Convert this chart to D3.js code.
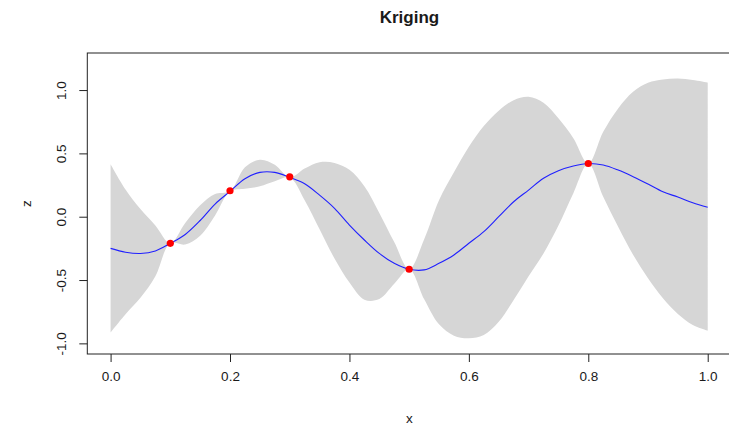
<!DOCTYPE html>
<html>
<head>
<meta charset="utf-8">
<script src="https://cdn.jsdelivr.net/npm/d3@7"></script>
<style>
  html, body { margin: 0; padding: 0; background: #fff; }
  svg { display: block; }
  text { font-family: "Liberation Sans", Arial, sans-serif; fill: #1a1a1a; }
</style>
</head>
<body>
<svg id="chart" width="729" height="426"></svg>
<script>
// ---- data ----
const gridX = [0.000,0.025,0.050,0.075,0.100,0.125,0.150,0.175,0.200,0.225,0.250,0.275,0.300,0.325,0.350,0.375,0.400,0.425,0.450,0.475,0.500,0.525,0.550,0.575,0.600,0.625,0.650,0.675,0.700,0.725,0.750,0.775,0.800,0.825,0.850,0.875,0.900,0.925,0.950,0.975,1.000];
const meanZ = [-0.25,-0.28,-0.29,-0.27,-0.21,-0.14,-0.03,0.10,0.20,0.30,0.35,0.35,0.31,0.26,0.17,0.066,-0.066,-0.184,-0.29,-0.368,-0.415,-0.42,-0.368,-0.302,-0.21,-0.118,0.0,0.118,0.21,0.303,0.363,0.40,0.42,0.408,0.368,0.316,0.258,0.197,0.155,0.11,0.074];
const upperZ = [0.415,0.215,0.06,-0.07,-0.21,-0.05,0.09,0.18,0.20,0.39,0.45,0.41,0.31,0.38,0.43,0.425,0.37,0.24,0.03,-0.20,-0.415,-0.18,0.13,0.35,0.553,0.716,0.837,0.92,0.947,0.90,0.777,0.62,0.42,0.67,0.855,0.987,1.058,1.084,1.092,1.08,1.06];
const lowerZ = [-0.915,-0.77,-0.64,-0.47,-0.21,-0.22,-0.15,0.01,0.20,0.22,0.24,0.28,0.31,0.13,-0.10,-0.33,-0.52,-0.655,-0.65,-0.53,-0.415,-0.65,-0.85,-0.94,-0.96,-0.934,-0.83,-0.657,-0.47,-0.29,-0.07,0.185,0.42,0.158,-0.08,-0.30,-0.486,-0.644,-0.768,-0.855,-0.90];
const obsX = [0.1, 0.2, 0.3, 0.5, 0.8];
const obsZ = [-0.21, 0.205, 0.315, -0.415, 0.42];
const xTicks = [0.0, 0.2, 0.4, 0.6, 0.8, 1.0];
const yTicks = [-1.0, -0.5, 0.0, 0.5, 1.0];
const titleText = "Kriging";
const xLabel = "x";
const yLabel = "z";

// ---- layout ----
const box = { left: 87.3, right: 731.6, top: 53, bottom: 354 };
const svg = d3.select("#chart");

const x = d3.scaleLinear().domain([-0.039, 1.04]).range([box.left, box.right]);
const y = d3.scaleLinear().domain([-1.084, 1.2925]).range([box.bottom, box.top]);

const band = gridX.map((d, i) => ({ x: d, m: meanZ[i], lo: lowerZ[i], hi: upperZ[i] }));

// band
svg.append("path")
  .datum(band)
  .attr("fill", "#d6d6d6")
  .attr("d", d3.area()
    .x(d => x(d.x))
    .y0(d => y(d.lo))
    .y1(d => y(d.hi))
    .curve(d3.curveCatmullRom.alpha(0.5)));

// mean line
svg.append("path")
  .datum(band)
  .attr("fill", "none")
  .attr("stroke", "#2020ff")
  .attr("stroke-width", 1.1)
  .attr("d", d3.line()
    .x(d => x(d.x))
    .y(d => y(d.m))
    .curve(d3.curveCatmullRom.alpha(0.5)));

// observations
svg.append("g").selectAll("circle")
  .data(obsX.map((d, i) => ({ x: d, z: obsZ[i] })))
  .join("circle")
  .attr("cx", d => x(d.x))
  .attr("cy", d => y(d.z))
  .attr("r", 3.6)
  .attr("fill", "#ff0000");

// box
svg.append("rect")
  .attr("x", box.left).attr("y", box.top)
  .attr("width", box.right - box.left).attr("height", box.bottom - box.top)
  .attr("fill", "none").attr("stroke", "#222").attr("stroke-width", 1);

// x axis
const fmt = d => d.toFixed(1);
const gx = svg.append("g").attr("transform", `translate(0,${box.bottom})`)
  .call(d3.axisBottom(x).tickValues(xTicks).tickFormat(fmt).tickSize(8).tickSizeOuter(0));
gx.select(".domain").remove();
gx.selectAll(".tick line").attr("stroke", "#222");
gx.selectAll(".tick text")
  .attr("y", 22).attr("dy", "0.35em")
  .style("font-size", "13.5px").style("font-family", "'Liberation Sans', Arial, sans-serif").attr("fill", "#1a1a1a");

// y axis
const gy = svg.append("g").attr("transform", `translate(${box.left},0)`)
  .call(d3.axisLeft(y).tickValues(yTicks).tickFormat(fmt).tickSize(8).tickSizeOuter(0));
gy.select(".domain").remove();
gy.selectAll(".tick line").attr("stroke", "#222");
gy.selectAll(".tick text")
  .attr("x", null).attr("dy", null)
  .attr("text-anchor", "middle")
  .attr("transform", "translate(-21,0) rotate(-90)")
  .style("font-size", "13.5px").style("font-family", "'Liberation Sans', Arial, sans-serif").attr("fill", "#1a1a1a");

// title & axis labels
svg.append("text")
  .attr("x", (box.left + box.right) / 2).attr("y", 23)
  .attr("text-anchor", "middle")
  .style("font-size", "17px").style("font-weight", "bold")
  .text(titleText);

svg.append("text")
  .attr("x", (box.left + box.right) / 2).attr("y", 423)
  .attr("text-anchor", "middle")
  .style("font-size", "13.5px")
  .text(xLabel);

svg.append("text")
  .attr("transform", `translate(31,${(box.top + box.bottom) / 2}) rotate(-90)`)
  .attr("text-anchor", "middle")
  .style("font-size", "13.5px")
  .text(yLabel);
</script>
</body>
</html>
